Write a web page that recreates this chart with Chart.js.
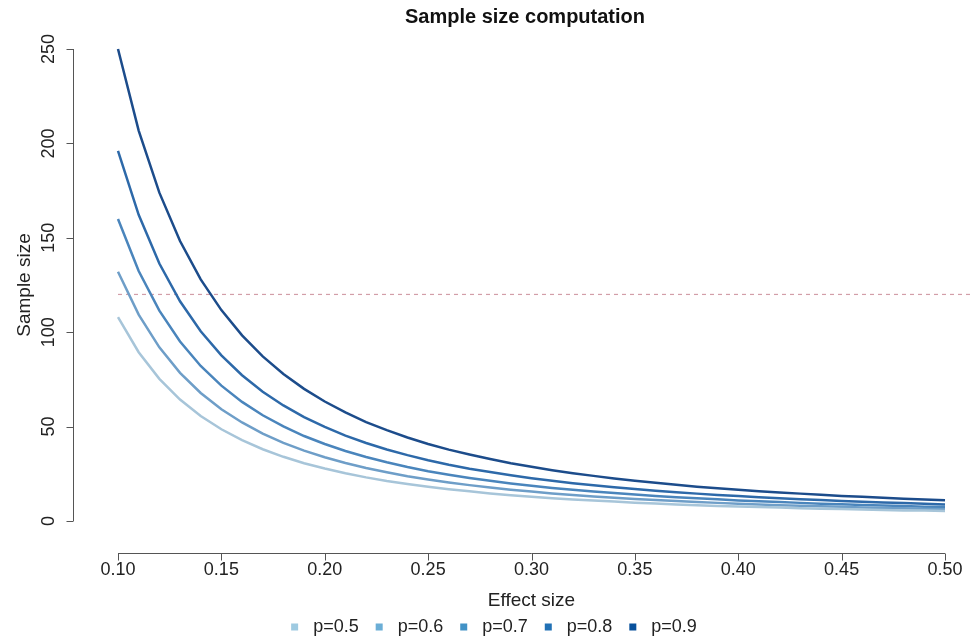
<!DOCTYPE html>
<html>
<head>
<meta charset="utf-8">
<title>Sample size computation</title>
<script src="https://cdn.jsdelivr.net/npm/chart.js@4.4.0/dist/chart.umd.min.js"></script>
<style>
  html, body { margin: 0; padding: 0; background: #fff; }
  canvas { display: block; }
</style>
</head>
<body>
<canvas id="sizeChart" width="970" height="641"></canvas>
<script>
// ---- data ----
const effectSizes = [
  0.10, 0.11, 0.12, 0.13, 0.14, 0.15, 0.16, 0.17, 0.18, 0.19,
  0.20, 0.21, 0.22, 0.23, 0.24, 0.25, 0.26, 0.27, 0.28, 0.29,
  0.30, 0.31, 0.32, 0.33, 0.34, 0.35, 0.36, 0.37, 0.38, 0.39,
  0.40, 0.41, 0.42, 0.43, 0.44, 0.45, 0.46, 0.47, 0.48, 0.49, 0.50
];

const powerLabels = ['p=0.5', 'p=0.6', 'p=0.7', 'p=0.8', 'p=0.9'];

const sizeP50 = [
  108.0, 89.4, 75.3, 64.3, 55.6, 48.6, 42.8, 38.0, 34.0, 30.6,
  27.8, 25.3, 23.1, 21.2, 19.6, 18.1, 16.8, 15.7, 14.6, 13.7,
  12.9, 12.1, 11.4, 10.8, 10.3, 9.7, 9.3, 8.8, 8.4, 8.0,
  7.7, 7.4, 7.1, 6.8, 6.5, 6.3, 6.1, 5.8, 5.6, 5.5, 5.3
];
const sizeP60 = [
  132.0, 109.3, 92.0, 78.5, 67.8, 59.2, 52.2, 46.3, 41.4, 37.3,
  33.8, 30.7, 28.1, 25.8, 23.7, 22.0, 20.4, 19.0, 17.7, 16.6,
  15.6, 14.6, 13.8, 13.0, 12.3, 11.7, 11.1, 10.6, 10.1, 9.6,
  9.2, 8.8, 8.4, 8.1, 7.8, 7.5, 7.2, 6.9, 6.7, 6.5, 6.2
];
const sizeP70 = [
  160.0, 132.4, 111.4, 95.1, 82.1, 71.7, 63.1, 56.0, 50.1, 45.0,
  40.8, 37.1, 33.9, 31.1, 28.6, 26.4, 24.5, 22.8, 21.3, 19.9,
  18.7, 17.5, 16.5, 15.6, 14.8, 14.0, 13.3, 12.6, 12.0, 11.5,
  10.9, 10.5, 10.0, 9.6, 9.2, 8.9, 8.5, 8.2, 7.9, 7.6, 7.4
];
const sizeP80 = [
  196.0, 162.2, 136.4, 116.4, 100.5, 87.7, 77.2, 68.5, 61.2, 55.0,
  49.8, 45.2, 41.3, 37.9, 34.9, 32.2, 29.8, 27.7, 25.9, 24.2,
  22.7, 21.3, 20.0, 18.9, 17.9, 16.9, 16.0, 15.2, 14.5, 13.8,
  13.2, 12.6, 12.1, 11.5, 11.1, 10.6, 10.2, 9.8, 9.5, 9.1, 8.8
];
const sizeP90 = [
  250.0, 206.8, 173.9, 148.3, 128.0, 111.7, 98.3, 87.2, 77.9, 70.0,
  63.3, 57.5, 52.4, 48.1, 44.2, 40.8, 37.8, 35.2, 32.8, 30.6,
  28.7, 26.9, 25.3, 23.9, 22.5, 21.3, 20.2, 19.2, 18.2, 17.4,
  16.6, 15.8, 15.1, 14.5, 13.9, 13.3, 12.8, 12.3, 11.8, 11.4, 11.0
];

const cutoffSize = 120;
const cutoffSpan = [0.10, 0.52];

const xTicks = [0.10, 0.15, 0.20, 0.25, 0.30, 0.35, 0.40, 0.45, 0.50];
const yTicks = [0, 50, 100, 150, 200, 250];

const lineColors = ['#a7c5d9', '#6e9ec8', '#4a85bc', '#2d69a9', '#1c4c8b'];
const legendColors = ['#9ecae1', '#6baed6', '#4292c6', '#2171b5', '#08519c'];

const FONT = '"Liberation Sans", Arial, Helvetica, sans-serif';
Chart.defaults.font.family = FONT;
Chart.defaults.color = '#222';

// ---- helpers ----
const seriesList = [sizeP50, sizeP60, sizeP70, sizeP80, sizeP90];
const toPoints = (vals) => effectSizes.map((x, i) => ({ x: x, y: vals[i] }));

const datasets = seriesList.map((vals, i) => ({
  label: powerLabels[i],
  data: toPoints(vals),
  borderColor: lineColors[i],
  borderWidth: 2.5,
  pointRadius: 0,
  tension: 0,
  clip: false
}));

datasets.push({
  label: 'cutoff',
  data: cutoffSpan.map(x => ({ x: x, y: cutoffSize })),
  borderColor: '#d29ea8',
  borderWidth: 1.2,
  borderDash: [4, 4],
  pointRadius: 0,
  clip: false
});

// axis lines drawn offset from the plot, R style
const axisFrame = {
  id: 'axisFrame',
  afterDraw(chart) {
    const { ctx, chartArea, scales: { x, y } } = chart;
    const ax = Math.round(chartArea.left - 45) + 0.5;
    const ay = Math.round(chartArea.bottom + 32) + 0.5;
    ctx.save();
    ctx.strokeStyle = '#555';
    ctx.lineWidth = 1;
    ctx.beginPath();
    ctx.moveTo(ax, y.getPixelForValue(yTicks[0]));
    ctx.lineTo(ax, y.getPixelForValue(yTicks[yTicks.length - 1]));
    yTicks.forEach(v => {
      const py = Math.round(y.getPixelForValue(v)) + 0.5;
      ctx.moveTo(ax, py);
      ctx.lineTo(ax - 7, py);
    });
    ctx.moveTo(x.getPixelForValue(xTicks[0]), ay);
    ctx.lineTo(x.getPixelForValue(xTicks[xTicks.length - 1]), ay);
    xTicks.forEach(v => {
      const px = Math.round(x.getPixelForValue(v)) + 0.5;
      ctx.moveTo(px, ay);
      ctx.lineTo(px, ay + 7);
    });
    ctx.stroke();

    // main title
    ctx.fillStyle = '#111';
    ctx.font = 'bold 20px ' + FONT;
    ctx.textAlign = 'center';
    ctx.textBaseline = 'middle';
    ctx.fillText('Sample size computation', 525, 17);

    // legend row
    ctx.font = '18px ' + FONT;
    ctx.textAlign = 'left';
    const widths = powerLabels.map(t => ctx.measureText(t).width);
    const total = widths.reduce((a, w) => a + 22 + w + 17, 0) - 17;
    let lx = 494 - total / 2;
    const ly = 627;
    powerLabels.forEach((t, i) => {
      ctx.fillStyle = legendColors[i];
      ctx.fillRect(lx, ly - 3.5, 7, 7);
      ctx.fillStyle = '#222';
      ctx.fillText(t, lx + 22, ly);
      lx += 22 + widths[i] + 17;
    });
    ctx.restore();
  }
};

const ctx = document.getElementById('sizeChart').getContext('2d');
new Chart(ctx, {
  type: 'line',
  data: { datasets: datasets },
  options: {
    responsive: false,
    animation: false,
    layout: { padding: { top: 49, right: 25, bottom: 25, left: 0 } },
    scales: {
      x: {
        type: 'linear',
        min: xTicks[0],
        max: xTicks[xTicks.length - 1],
        afterBuildTicks: s => { s.ticks = xTicks.map(v => ({ value: v })); },
        afterFit: s => { s.height = 95; s.paddingLeft = 0; s.paddingRight = 0; },
        grid: { display: false, drawTicks: false },
        border: { display: false },
        ticks: {
          padding: 38,
          maxRotation: 0,
          font: { size: 18 },
          color: '#222',
          callback: v => v.toFixed(2)
        },
        title: {
          display: true,
          text: 'Effect size',
          font: { size: 19 },
          color: '#222',
          padding: { top: 0, bottom: 4 }
        }
      },
      y: {
        min: yTicks[0],
        max: yTicks[yTicks.length - 1],
        afterBuildTicks: s => { s.ticks = yTicks.map(v => ({ value: v })); },
        afterFit: s => { s.width = 118; s.paddingTop = 0; s.paddingBottom = 0; },
        grid: { display: false, drawTicks: false },
        border: { display: false },
        ticks: {
          padding: 54,
          minRotation: 90,
          maxRotation: 90,
          crossAlign: 'center',
          font: { size: 18 },
          color: '#222'
        },
        title: {
          display: true,
          text: 'Sample size',
          font: { size: 19 },
          color: '#222',
          padding: { top: 13, bottom: 0 }
        }
      }
    },
    plugins: {
      legend: { display: false },
      tooltip: { enabled: false }
    }
  },
  plugins: [axisFrame]
});
</script>
</body>
</html>
